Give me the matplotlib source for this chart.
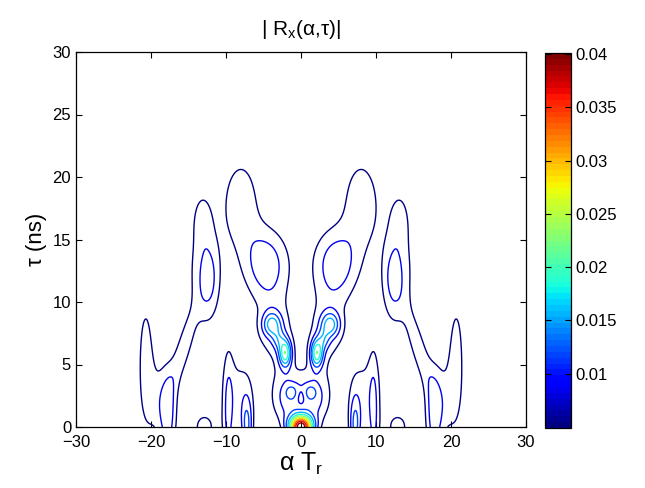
import numpy as np
import matplotlib
matplotlib.use("Agg")
import matplotlib.pyplot as plt
from matplotlib.colors import Normalize
from matplotlib.cm import ScalarMappable

plt.rcParams['font.family'] = ['Liberation Sans', 'DejaVu Sans']
plt.rcParams['mathtext.fontset'] = 'custom'
plt.rcParams['mathtext.rm'] = 'Liberation Sans'
plt.rcParams['mathtext.it'] = 'Liberation Sans'

# ---- data: ridge/bump components of |R_x(alpha, tau)| ----
# (alpha, tau) centre, widths, amplitude, tilt, mirrored to +alpha (1) or central (0)
blob_x   = [0.0,   -1.8,   0.0,    -1.3,   -2.1,   -3.9,   -3.0,   -3.4,   -4.6,  -8.0,  -12.3, -13.6, -13.1, -20.7, -17.7, -18.5, -15.8, -13.0,  -9.7,   -7.2,  -8.5]
blob_y   = [0.0,    2.3,   2.3,     2.8,    5.9,    8.2,    7.0,    7.5,   13.0,  18.0,   11.8,  12.8,  16.8,   5.5,   0.0,   2.0,   6.0,   0.0,    0.0,    0.0,   2.5]
blob_sx  = [1.1,    1.6,   0.45,    0.5,    0.6,    0.9,    0.6,    2.0,    2.3,   1.9,    1.1,   2.1,   0.9,   0.8,   0.75,  1.5,   0.8,   1.3,    0.5,    0.55,  1.8]
blob_sy  = [0.65,   1.6,   0.5,     0.35,   0.8,    0.7,    0.6,    2.2,    2.2,   2.8,    2.3,   4.2,   1.5,   3.8,   2.8,   2.5,   2.5,   1.1,    4.5,    1.8,   2.8]
blob_amp = [0.040, 0.0095, -0.003, 0.0045, 0.0175, 0.0115, 0.006,  0.0060, 0.0105, 0.0075, 0.0068, 0.0044, 0.004, 0.0068, 0.006, 0.0065, 0.006, 0.0058, 0.0060, 0.0100, 0.006]
blob_rot = [0,      0,     0,       0,      0,      0,      0,      0,      0,     0,      0,     0,     0,     0,     0,     0,     -25,   0,      0,      0,     0]
blob_mir = [0,      1,     0,       1,      1,      1,      1,      1,      1,     1,      1,     1,     1,     1,     1,     1,     1,     1,      1,      1,     1]

levels = list(np.linspace(0.0049, 0.0401, 11))
cbar_ticks = [0.01, 0.015, 0.02, 0.025, 0.03, 0.035, 0.04]
x_ticks = [-30, -20, -10, 0, 10, 20, 30]
y_ticks = [0, 5, 10, 15, 20, 25, 30]

# ---- field ----
ax_alpha = np.linspace(-30, 30, 601)
ax_tau = np.linspace(0, 30, 601)
X, Y = np.meshgrid(ax_alpha, ax_tau)
Z = np.zeros_like(X)

def add_blob(cx, cy, sx, sy, a, rot):
    t = np.deg2rad(rot)
    dx, dy = X - cx, Y - cy
    u = dx * np.cos(t) + dy * np.sin(t)
    v = -dx * np.sin(t) + dy * np.cos(t)
    return a * np.exp(-0.5 * ((u / sx) ** 2 + (v / sy) ** 2))

for cx, cy, sx, sy, a, r, m in zip(blob_x, blob_y, blob_sx, blob_sy, blob_amp, blob_rot, blob_mir):
    Z += add_blob(cx, cy, sx, sy, a, r)
    if m:
        Z += add_blob(-cx, cy, sx, sy, a, -r)
Z = np.abs(Z)

# ---- figure ----
fig = plt.figure(figsize=(6.45, 4.88), dpi=100)
ax = fig.add_axes([76/645, 61/488, 450/645, 375/488])
cax = fig.add_axes([545/645, 60/488, 26/645, 375/488])

cmap = plt.get_cmap('jet', 64)
norm = Normalize(vmin=0.0049, vmax=0.0401)
ax.contour(X, Y, Z, levels=levels, cmap=cmap, norm=norm, linewidths=1.0)

ax.set_xlim(-30, 30)
ax.set_ylim(0, 30)
ax.set_xticks(x_ticks)
ax.set_yticks(y_ticks)
ax.tick_params(direction='in', top=True, right=True, labelsize=12, length=4, width=0.8)
ax.tick_params(axis='x', pad=6)
for s in ax.spines.values():
    s.set_linewidth(0.9)

ax.set_title(r'| R$_{\mathrm{x}}$(α,τ)|', fontsize=15, pad=12)
ax.set_xlabel(r'α T$_{\mathrm{r}}$', fontsize=18, labelpad=0)
ax.set_ylabel('τ (ns)', fontsize=16, labelpad=4)

sm = ScalarMappable(norm=norm, cmap=cmap)
cb = fig.colorbar(sm, cax=cax, ticks=cbar_ticks)
cb.ax.set_yticklabels(['0.01', '0.015', '0.02', '0.025', '0.03', '0.035', '0.04'])
cb.ax.tick_params(direction='in', left=True, right=True, labelsize=12, length=4)
cb.outline.set_linewidth(0.9)

fig.savefig('out.png', dpi=100)
